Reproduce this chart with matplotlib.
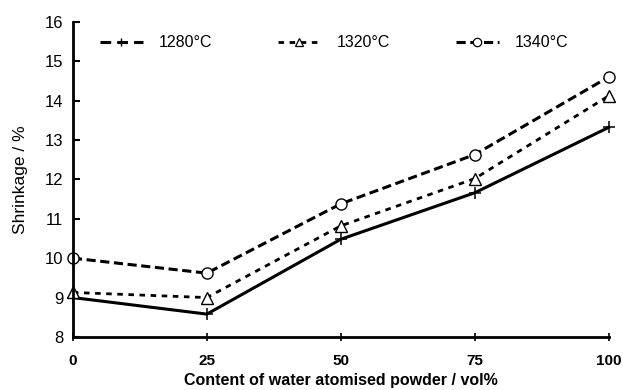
import matplotlib
matplotlib.use("Agg")
import matplotlib.pyplot as plt
from matplotlib.lines import Line2D

content = [0, 25, 50, 75, 100]
s1280 = [9.0, 8.58, 10.48, 11.66, 13.32]
s1320 = [9.13, 9.0, 10.82, 12.02, 14.12]
s1340 = [10.0, 9.62, 11.38, 12.63, 14.6]
labels = ["1280°C", "1320°C", "1340°C"]
xticks = [0, 25, 50, 75, 100]
yticks = [8, 9, 10, 11, 12, 13, 14, 15, 16]

plt.rcParams['font.family'] = ['Liberation Sans', 'DejaVu Sans']

fig = plt.figure(figsize=(6.23, 3.9), dpi=100)
ax = fig.add_axes([0.117, 0.136, 0.86, 0.808])

ax.plot(content, s1280, color='black', lw=2.2, ls='-', marker='+', ms=9,
        mew=1.1, clip_on=False)
ax.plot(content, s1320, color='black', lw=2.0, ls=(0, (2.0, 2.0)), marker='^', ms=8,
        mfc='white', mew=1.0, clip_on=False)
ax.plot(content, s1340, color='black', lw=2.2, ls=(0, (3.0, 1.5)), marker='o', ms=8,
        mfc='white', mew=1.0, clip_on=False)

ax.set_xlim(0, 100)
ax.set_ylim(8, 16)
ax.set_xticks(xticks)
ax.set_yticks(yticks)
ax.set_xticklabels([str(v) for v in xticks], fontsize=11, fontweight='bold')
ax.set_yticklabels([str(v) for v in yticks], fontsize=12)
ax.tick_params(axis='y', direction='in', length=5, width=1.5, pad=7)
ax.tick_params(axis='x', direction='inout', length=6, width=1.2, pad=9)

for s in ['top', 'right']:
    ax.spines[s].set_visible(False)
for s in ['left', 'bottom']:
    ax.spines[s].set_linewidth(2.0)

ax.set_ylabel("Shrinkage / %", fontsize=12.5, labelpad=12)
ax.set_xlabel("Content of water atomised powder / vol%", fontsize=11.5,
              fontweight='bold', labelpad=4)

handles = [
    Line2D([], [], color='black', lw=2.2, ls=(0, (3.5, 2.0)), marker='+', ms=6, mew=1.0),
    Line2D([], [], color='black', lw=2.0, ls=(0, (2.0, 2.0)), marker='^', ms=6,
           mfc='white', mew=0.9),
    Line2D([], [], color='black', lw=2.2, ls=(0, (3.0, 1.5)), marker='o', ms=6,
           mfc='white', mew=0.9),
]
leg = ax.legend(handles, labels, loc='upper left', bbox_to_anchor=(0.05, 0.957), ncol=3,
                frameon=False, handlelength=2.7, columnspacing=4.1, handletextpad=1.0,
                borderpad=0, borderaxespad=0, fontsize=11.5)

fig.savefig("out.png", dpi=100)
